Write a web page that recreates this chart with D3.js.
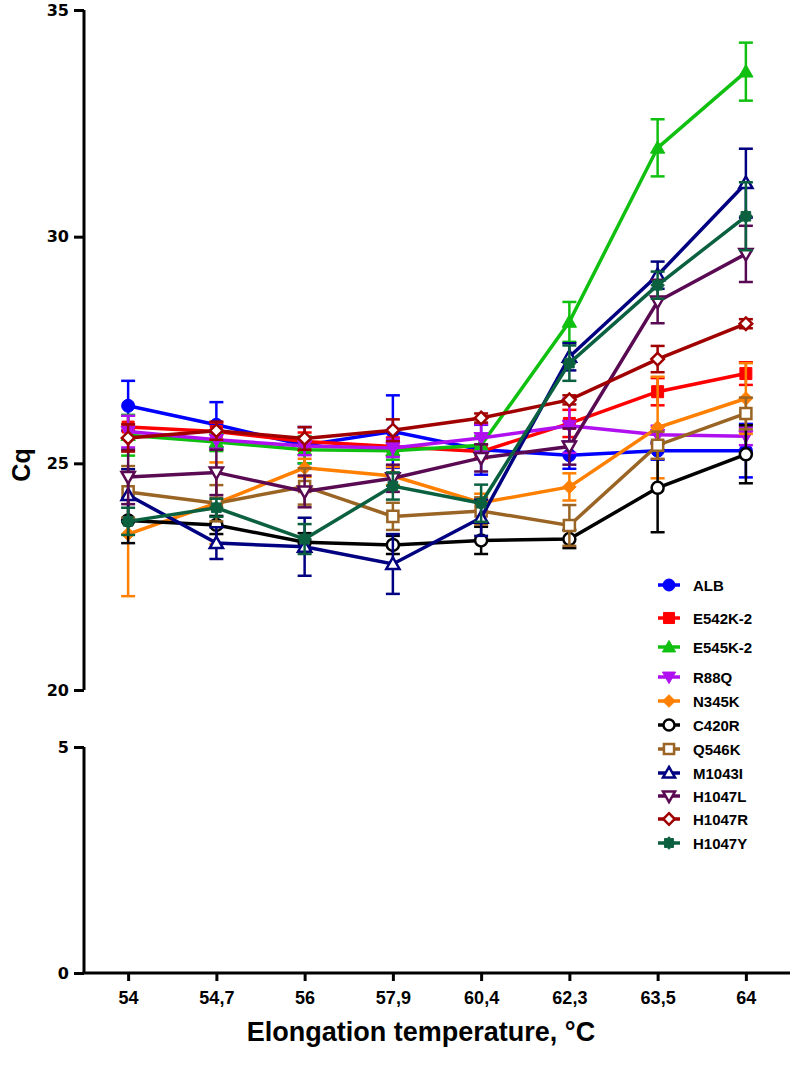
<!DOCTYPE html>
<html><head><meta charset="utf-8">
<script src="https://cdn.jsdelivr.net/npm/d3@7"></script>
<style>body{margin:0;background:#fff}svg{display:block}</style>
</head><body>
<svg id="c" width="790" height="1067"></svg>
<script>
const categories = ["54","54,7","56","57,9","60,4","62,3","63,5","64"];
const upperTicks = [20,25,30,35];
const lowerTicks = [0,5];
const seriesNames = ["ALB","E542K-2","E545K-2","R88Q","N345K","C420R","Q546K","M1043I","H1047L","H1047R","H1047Y"];
const ALB    = [26.27,25.85,25.40,25.70,25.30,25.18,25.28,25.28];
const E542K2 = [25.80,25.70,25.48,25.37,25.26,25.88,26.58,26.98];
const E545K2 = [25.62,25.47,25.30,25.28,25.40,28.12,31.96,33.64];
const R88Q   = [25.70,25.52,25.38,25.34,25.56,25.83,25.63,25.60];
const N345K  = [23.44,24.12,24.90,24.72,24.13,24.48,25.79,26.43];
const C420R  = [23.74,23.64,23.26,23.20,23.30,23.33,24.46,25.20];
const Q546K  = [24.37,24.12,24.49,23.83,23.95,23.63,25.40,26.10];
const M1043I = [24.30,23.24,23.16,22.78,23.80,27.35,29.15,31.18];
const H1047L = [24.70,24.80,24.38,24.67,25.12,25.37,28.57,29.62];
const H1047R = [25.56,25.72,25.55,25.73,26.00,26.40,27.30,28.08];
const H1047Y = [23.72,24.02,23.33,24.50,24.12,27.21,28.93,30.45];
const errALB    = [0.55,0.50,0.40,0.80,0.55,0.30,0.20,0.59];
const errE542K2 = [0.25,0.20,0.20,0.20,0.15,0.30,0.30,0.25];
const errE545K2 = [0.45,0.20,0.30,0.20,0.20,0.44,0.63,0.64];
const errR88Q   = [0.35,0.20,0.20,0.20,0.30,0.60,0.20,0.20];
const errN345K  = [1.37,0.90,0.20,0.20,0.20,0.30,1.12,0.78];
const errC420R  = [0.50,0.20,0.20,0.20,0.30,0.20,0.98,0.64];
const errQ546K  = [0.57,0.40,0.40,0.30,0.30,0.45,0.30,0.35];
const errM1043I = [0.57,0.35,0.64,0.66,0.40,0.30,0.30,0.76];
const errH1047L = [0.60,0.50,0.35,0.30,0.30,0.40,0.48,0.62];
const errH1047R = [0.30,0.20,0.25,0.24,0.10,0.10,0.29,0.10];
const errH1047Y = [0.30,0.20,0.33,0.30,0.41,0.39,0.30,0.75];

const values = [ALB,E542K2,E545K2,R88Q,N345K,C420R,Q546K,M1043I,H1047L,H1047R,H1047Y];
const errors = [errALB,errE542K2,errE545K2,errR88Q,errN345K,errC420R,errQ546K,errM1043I,errH1047L,errH1047R,errH1047Y];
const colors = ["#0000ff","#ff0000","#10c010","#b010f0","#ff8000","#000000","#9a6424","#000080","#5a0a52","#a00000","#0b6040"];
const symbols = ["circle","square","triangle","triangleDown","diamond","circle","square","triangle","triangleDown","diamond","blob"];
const filled = [true,true,true,true,true,false,false,false,false,false,true];

const svg = d3.select("#c");
const x = d3.scalePoint().domain(categories).range([84,790]).padding(0.5);
const yU = d3.scaleLinear().domain([20,35]).range([690,10]);
const yL = d3.scaleLinear().domain([0,5]).range([973,747]);

function symPath(type, r){
  if(type==="circle") return d3.symbol(d3.symbolCircle, Math.PI*r*r)();
  if(type==="square") return d3.symbol(d3.symbolSquare, 4*r*r*0.85)();
  if(type==="triangle"){ const h=r*1.1; return `M0,${-h}L${h},${h*0.75}L${-h},${h*0.75}Z`; }
  if(type==="triangleDown"){ const h=r*1.1; return `M0,${h}L${h},${-h*0.75}L${-h},${-h*0.75}Z`; }
  if(type==="diamond"){ const h=r*1.05; return `M0,${-h}L${h},0L0,${h}L${-h},0Z`; }
  if(type==="blob"){
    const pts=[]; for(let k=0;k<16;k++){ const a=k*Math.PI/8; const rr = k%2? r*0.8 : r*1.05; pts.push([rr*Math.sin(a), -rr*Math.cos(a)]); }
    return "M"+pts.map(p=>p.join(",")).join("L")+"Z";
  }
}

// axes
const axU = d3.axisLeft(yU).tickValues(upperTicks).tickSize(10).tickPadding(5).tickFormat(d3.format("d"));
const axL = d3.axisLeft(yL).tickValues(lowerTicks).tickSize(10).tickPadding(5).tickFormat(d3.format("d"));
const axX = d3.axisBottom(x).tickSize(8).tickPadding(10);
function styleAxis(g, font, size){
  g.select(".domain").attr("stroke","#000").attr("stroke-width",3);
  g.selectAll(".tick line").attr("stroke","#000").attr("stroke-width",3);
  g.selectAll(".tick text").attr("fill","#000").style("font-family",font).style("font-size",size+"px").style("font-weight","bold");
}
const gU = svg.append("g").attr("transform","translate(84,0)").call(axU);
gU.select(".domain").attr("d","M0,10V690");
styleAxis(gU,"'DejaVu Sans', sans-serif",16);
const gL = svg.append("g").attr("transform","translate(84,0)").call(axL);
gL.select(".domain").attr("d","M0,747V973");
styleAxis(gL,"'DejaVu Sans', sans-serif",16);
const gX = svg.append("g").attr("transform","translate(0,973)").call(axX);
gX.select(".domain").attr("d","M82.5,0H790");
styleAxis(gX,"'Liberation Sans', Arial, sans-serif",18);

svg.append("text").attr("transform","translate(30,465) rotate(-90)").attr("text-anchor","middle")
  .style("font-family","'Liberation Sans', Arial, sans-serif").style("font-size","25px").style("font-weight","bold").text("Cq");
svg.append("text").attr("x",421).attr("y",1041).attr("text-anchor","middle")
  .style("font-family","'Liberation Sans', Arial, sans-serif").style("font-size","27px").style("font-weight","bold").text("Elongation temperature, °C");

// series
const line = d3.line().x((d,i)=>x(categories[i])).y(d=>yU(d));
seriesNames.forEach((name,s)=>{
  const g = svg.append("g");
  const c = colors[s];
  values[s].forEach((v,i)=>{
    const e = errors[s][i], cx = x(categories[i]);
    g.append("line").attr("x1",cx).attr("x2",cx).attr("y1",yU(v+e)).attr("y2",yU(v-e)).attr("stroke",c).attr("stroke-width",2.5);
    [v+e,v-e].forEach(w=>g.append("line").attr("x1",cx-7).attr("x2",cx+7).attr("y1",yU(w)).attr("y2",yU(w)).attr("stroke",c).attr("stroke-width",2.5));
  });
  g.append("path").attr("d",line(values[s])).attr("fill","none").attr("stroke",c).attr("stroke-width",3.5);
  values[s].forEach((v,i)=>{
    g.append("path").attr("d",symPath(symbols[s], filled[s]?6.5:6))
      .attr("transform",`translate(${x(categories[i])},${yU(v)})`)
      .attr("fill",filled[s]?c:"#fff").attr("stroke",c).attr("stroke-width",filled[s]?1:2.5);
  });
});

// legend
const legY = [585,618,647,677,701,725,749,773,796,819,843];
seriesNames.forEach((name,s)=>{
  const g = svg.append("g").attr("transform",`translate(669,${legY[s]})`);
  g.append("line").attr("x1",-11).attr("x2",11).attr("stroke",colors[s]).attr("stroke-width",3.5);
  g.append("path").attr("d",symPath(symbols[s], filled[s]?6:5.5))
    .attr("fill",filled[s]?colors[s]:"#fff").attr("stroke",colors[s]).attr("stroke-width",filled[s]?1:2.5);
  g.append("text").attr("x",24).attr("y",5.5).style("font-family","'Liberation Sans', Arial, sans-serif")
    .style("font-size","15px").style("font-weight","bold").attr("fill","#000").text(name);
});
</script>
</body></html>
